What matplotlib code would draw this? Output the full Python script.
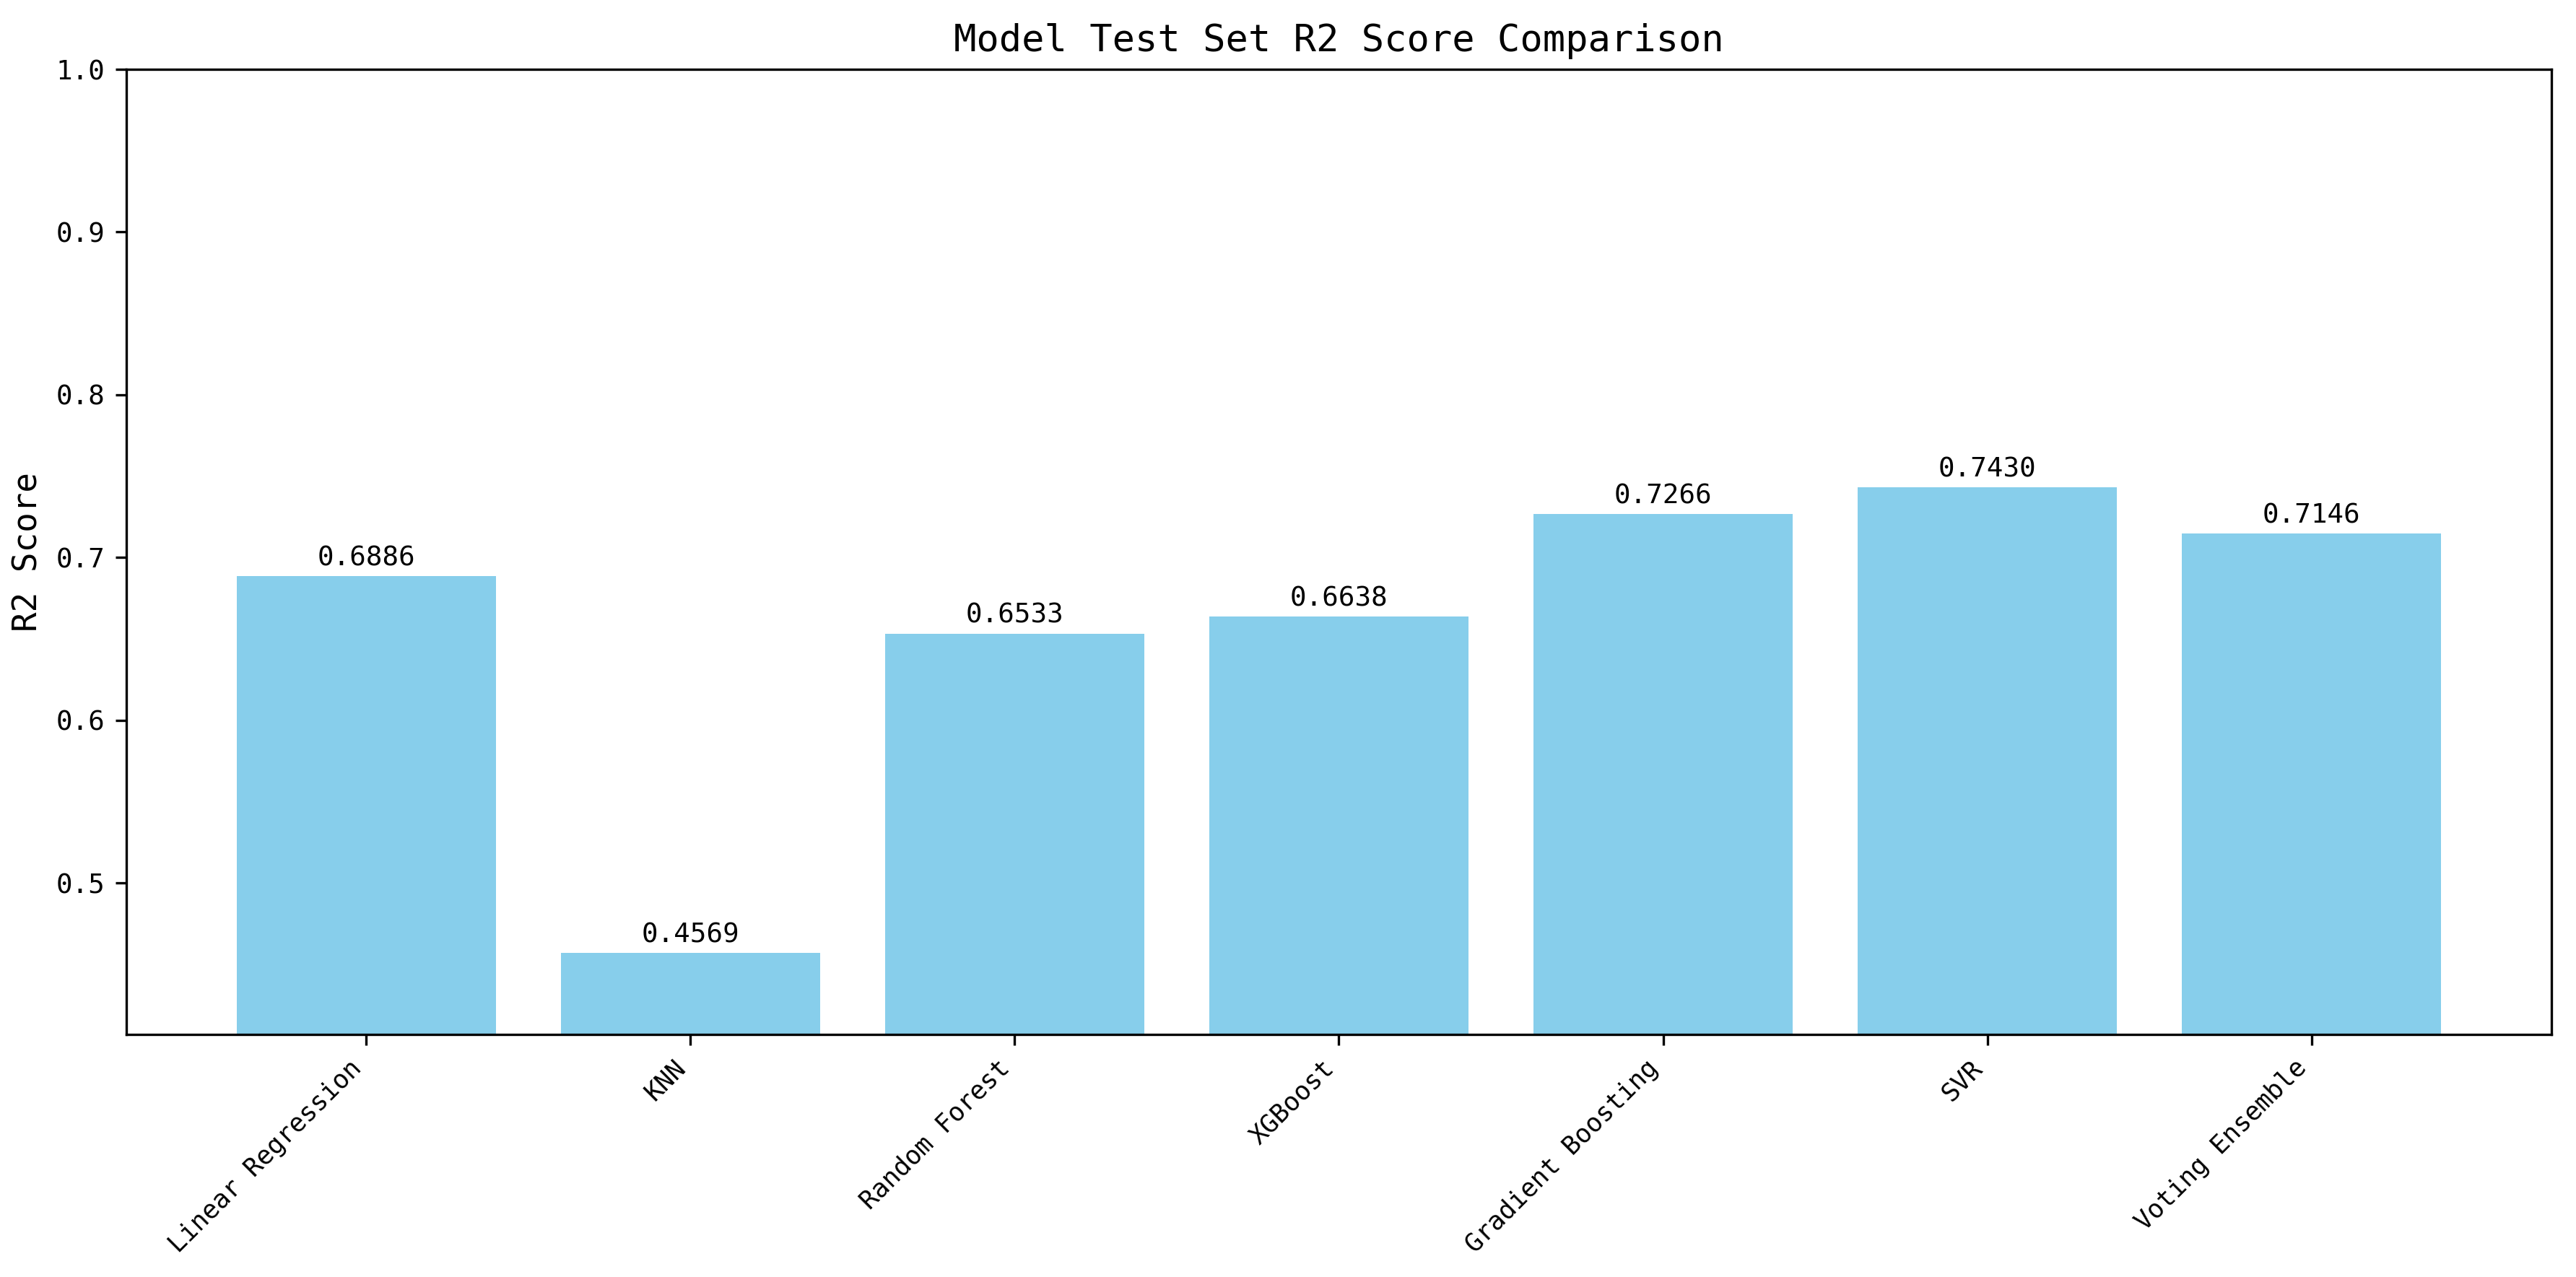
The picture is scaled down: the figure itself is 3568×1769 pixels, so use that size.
import matplotlib
matplotlib.use("Agg")
import matplotlib.pyplot as plt

models = ["Linear Regression", "KNN", "Random Forest", "XGBoost",
          "Gradient Boosting", "SVR", "Voting Ensemble"]
r2_scores = [0.6886, 0.4569, 0.6533, 0.6638, 0.7266, 0.7430, 0.7146]

# monospace font is a bit wider than the original, so sizes are scaled down
plt.rcParams["font.family"] = ["DejaVu Sans Mono", "Noto Sans CJK SC"]
plt.rcParams["axes.unicode_minus"] = False

fig, ax = plt.subplots(figsize=(3568 / 300, 1769 / 300), dpi=300)
fig.subplots_adjust(left=0.049, right=0.9905, top=0.9457, bottom=0.19)

bars = ax.bar(models, r2_scores, color="skyblue")
for bar, val in zip(bars, r2_scores):
    ax.text(bar.get_x() + bar.get_width() / 2, bar.get_height() + 0.003,
            f"{val:.4f}", ha="center", va="bottom", fontsize=9)

ax.set_title("Model Test Set R2 Score Comparison", fontsize=12.5)
ax.set_ylabel("R2 Score", fontsize=11)
ax.set_ylim(min(r2_scores) - 0.05, 1.0)
ax.tick_params(axis="y", labelsize=9)
ax.tick_params(axis="x", labelsize=8.5)
plt.setp(ax.get_xticklabels(), rotation=45, ha="right")

fig.savefig("out.png", dpi=300)
